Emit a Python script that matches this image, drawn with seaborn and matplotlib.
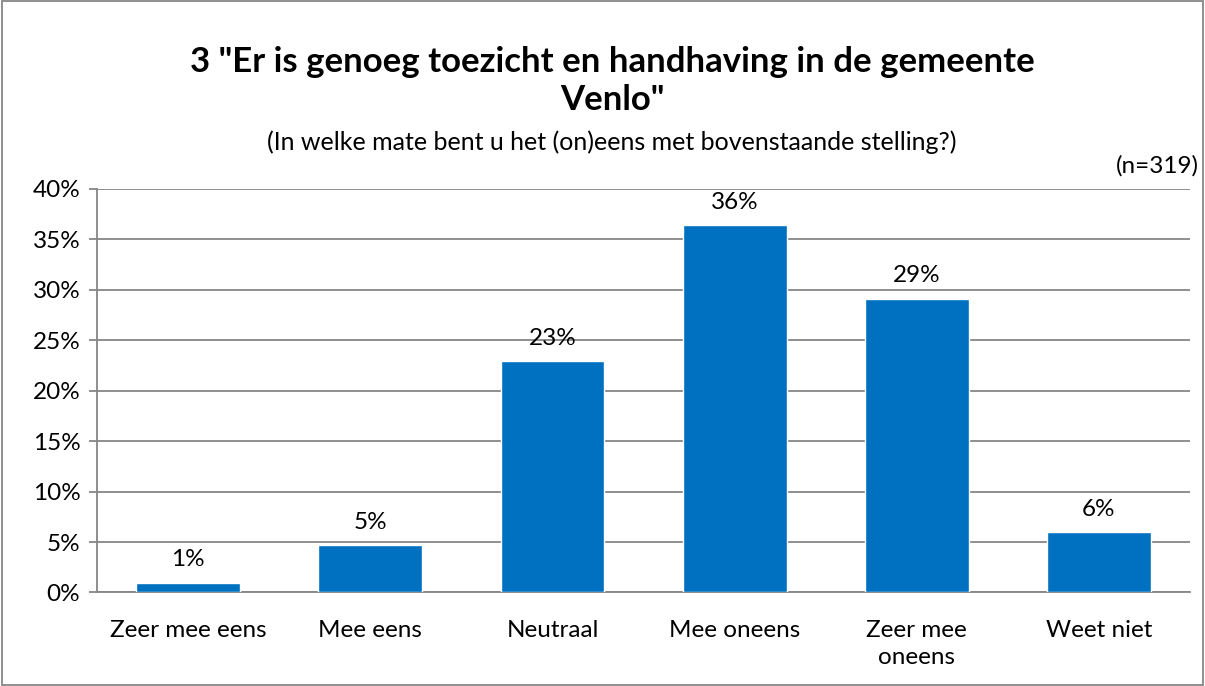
import matplotlib
matplotlib.use("Agg")
import matplotlib.pyplot as plt
import seaborn as sns
import pandas as pd
import numpy as np
from matplotlib.ticker import PercentFormatter, FixedLocator
from matplotlib.patches import Rectangle

categories = ["Zeer mee eens", "Mee eens", "Neutraal", "Mee oneens", "Zeer mee\noneens", "Weet niet"]
values = [0.97, 4.7, 22.9, 36.4, 29.1, 5.97]
labels = ["1%", "5%", "23%", "36%", "29%", "6%"]
title = '3 "Er is genoeg toezicht en handhaving in de gemeente\nVenlo"'
subtitle = "(In welke mate bent u het (on)eens met bovenstaande stelling?)"
n_text = "(n=319)"

sns.set_theme(style="white")
plt.rcParams["font.family"] = ["Lato", "DejaVu Sans"]
plt.rcParams["text.color"] = "black"

df = pd.DataFrame({"cat": categories, "val": values})
fig = plt.figure(figsize=(12.05, 6.86), dpi=100)
ax = fig.add_axes([0.0805, 0.1363, 0.9071, 0.5882])

sns.barplot(data=df, x="cat", y="val", color="#0070C0", saturation=1, width=0.57, ax=ax, zorder=3)

ax.set_ylim(0, 40)
ax.set_xlim(-0.5, len(categories) - 0.5)
ax.set_yticks(np.arange(0, 41, 5))
ax.yaxis.set_major_formatter(PercentFormatter(decimals=0))
ax.yaxis.grid(True, color="#868686", linewidth=1.3, zorder=0)
ax.set_axisbelow(True)
ax.set_xlabel("")
ax.set_ylabel("")

for s in ["top", "right"]:
    ax.spines[s].set_visible(False)
for s in ["left", "bottom"]:
    ax.spines[s].set_color("#868686")
    ax.spines[s].set_linewidth(1.3)

ax.tick_params(axis="x", which="major", length=0, labelsize=17.5, colors="black", pad=20)
for t in ax.get_xticklabels():
    t.set_linespacing(1.35)
ax.xaxis.set_minor_locator(FixedLocator(np.arange(-0.5, len(categories), 1)))
ax.tick_params(axis="x", which="minor", length=7, width=1.3, color="#868686", direction="out")
ax.tick_params(axis="y", which="major", length=6, width=1.3, color="#868686", labelsize=17.5,
               labelcolor="black", direction="out", left=True, pad=6)

for i, (v, lab) in enumerate(zip(values, labels)):
    ax.annotate(lab, (i, v), xytext=(0, 9), textcoords="offset points",
                ha="center", va="bottom", fontsize=17.5, color="black")

fig.text(0.508, 0.882, title, ha="center", va="center", fontsize=25, fontweight="bold",
         linespacing=1.2, color="black")
fig.text(0.508, 0.793, subtitle, ha="center", va="center", fontsize=18, color="black")
fig.text(0.995, 0.759, n_text, ha="right", va="center", fontsize=17.5, color="black")

fig.add_artist(Rectangle((0.002, 0.002), 0.996, 0.996, transform=fig.transFigure,
                         fill=False, edgecolor="#868686", linewidth=1.3))

fig.savefig("out.png", dpi=100)
